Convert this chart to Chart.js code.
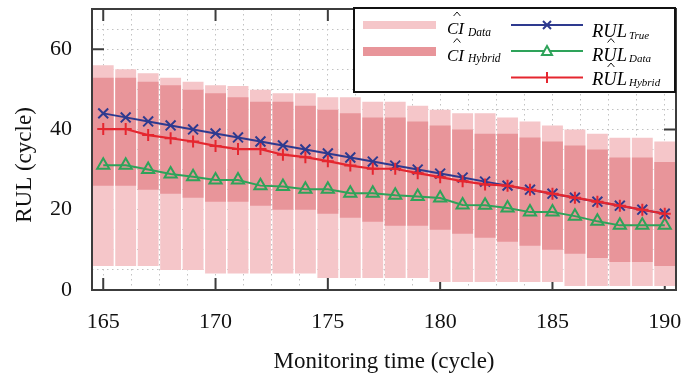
<!DOCTYPE html>
<html>
<head>
<meta charset="utf-8">
<script src="https://cdn.jsdelivr.net/npm/chart.js@4.4.1/dist/chart.umd.min.js"></script>
<style>
  html, body { margin: 0; padding: 0; background: #fff; }
  #wrap { width: 697px; height: 381px; }
</style>
</head>
<body>
<div id="wrap"><canvas id="chart" width="697" height="381"></canvas></div>
<script>
// monitoring time (cycle)
const cycles = [165, 166, 167, 168, 169, 170, 171, 172, 173, 174, 175, 176, 177,
  178, 179, 180, 181, 182, 183, 184, 185, 186, 187, 188, 189, 190]

// confidence interval from data only (light bars)
const ciDataLow = [6.0, 6.0, 6.0, 5.0, 5.0, 4.1, 4.1, 4.1, 4.1, 4.1, 3.0, 3.0, 3.0,
  3.0, 3.0, 2.0, 2.0, 2.0, 2.0, 2.0, 2.0, 1.0, 1.0, 1.0, 1.0, 1.0]
const ciDataHigh = [56.0, 55.0, 54.0, 52.9, 51.9, 51.0, 50.8, 49.9, 49.0, 49.0, 48.0, 48.0, 46.9,
  46.9, 45.9, 44.9, 44.0, 44.0, 43.0, 42.0, 41.0, 40.0, 38.9, 37.9, 37.9, 37.0]

// confidence interval of the hybrid method (dark bars)
const ciHybridLow = [26.0, 26.0, 25.0, 24.0, 23.0, 22.0, 22.0, 21.0, 20.0, 20.0, 19.0, 18.0, 17.0,
  16.0, 16.0, 15.0, 14.0, 13.0, 12.0, 11.0, 10.0, 9.0, 8.0, 7.0, 7.0, 6.0]
const ciHybridHigh = [52.9, 52.9, 51.9, 51.0, 49.9, 49.0, 48.0, 46.9, 46.9, 45.9, 44.9, 44.0, 43.0,
  43.0, 42.0, 41.0, 40.0, 38.9, 38.9, 38.0, 37.0, 36.0, 35.0, 33.0, 33.0, 31.9]

// RUL curves
const rulTrue = [44, 43, 42, 41, 40, 39, 38, 37, 36, 35, 34, 33, 32,
  31, 30, 29, 28, 27, 26, 25, 24, 23, 22, 21, 20, 19]
const rulData = [31.1, 31.1, 30.0, 28.9, 28.2, 27.4, 27.4, 26.0, 25.8, 25.1, 25.1, 24.1, 24.1,
  23.6, 23.3, 22.9, 21.2, 21.1, 20.4, 19.4, 19.4, 18.4, 17.1, 16.1, 16.1, 16.1]
const rulHybrid = [40.1, 40.1, 38.6, 37.8, 37.0, 35.9, 35.1, 35.1, 33.7, 33.1, 32.1, 31.0, 30.2,
  30.2, 29.1, 28.1, 27.1, 26.3, 26.0, 25.0, 24.0, 23.0, 22.0, 21.0, 20.0, 19.0]

const LIGHT = "#f5c6c9"
const DARK = "#e8959a"
const BLUE = "#2e3a8f"
const GREEN = "#2ea35a"
const RED = "#e5262f"
const AXIS = "#3c3c3c"
const SERIF = "'Liberation Serif', 'Times New Roman', serif"

const toBars = (lo, hi) => cycles.map((c, i) => ({ x: c, y: [lo[i], hi[i]] }))
const toLine = vals => cycles.map((c, i) => ({ x: c, y: vals[i] }))

// ticks come out as floats like 164.99999, so round before testing
const isMajor = (v, step) => {
  const r = Math.round(v)
  return Math.abs(r - v) < 1e-6 && r % step === 0
}

// frame with inward ticks, drawn like a "box on" plot
const framePlugin = {
  id: "frame",
  beforeDatasetsDraw(chart) {
    const { ctx, chartArea: a, scales } = chart
    ctx.save()
    ctx.strokeStyle = AXIS
    ctx.lineWidth = 2
    ctx.beginPath()
    scales.x.ticks.forEach(t => {
      if (!isMajor(t.value, 5)) return
      const px = scales.x.getPixelForValue(t.value)
      ctx.moveTo(px, a.bottom); ctx.lineTo(px, a.bottom - 12)
      ctx.moveTo(px, a.top); ctx.lineTo(px, a.top + 12)
    })
    scales.y.ticks.forEach(t => {
      if (!isMajor(t.value, 20)) return
      const py = scales.y.getPixelForValue(t.value)
      ctx.moveTo(a.left, py); ctx.lineTo(a.left + 12, py)
      ctx.moveTo(a.right, py); ctx.lineTo(a.right - 12, py)
    })
    ctx.stroke()
    ctx.restore()
  },
  afterDatasetsDraw(chart) {
    const { ctx, chartArea: a } = chart
    ctx.save()
    ctx.strokeStyle = AXIS
    ctx.lineWidth = 2
    ctx.strokeRect(a.left, a.top, a.right - a.left, a.bottom - a.top)

    // y title sits a bit below the middle of the axis in the original
    ctx.translate(25, 165)
    ctx.rotate(-Math.PI / 2)
    ctx.fillStyle = "#111"
    ctx.font = "23px " + SERIF
    ctx.textAlign = "center"
    ctx.textBaseline = "middle"
    ctx.fillText("RUL (cycle)", 0, 0)
    ctx.restore()
  }
}

function hat(ctx, cx, y) {
  ctx.beginPath()
  ctx.moveTo(cx - 3.4, y + 4)
  ctx.lineTo(cx, y)
  ctx.lineTo(cx + 3.4, y + 4)
  ctx.stroke()
}

// legend box in the top right corner
const legendPlugin = {
  id: "boxLegend",
  afterDraw(chart) {
    const ctx = chart.ctx
    ctx.save()
    ctx.fillStyle = "#fff"
    ctx.fillRect(354, 8, 321, 84)
    ctx.strokeStyle = "#111"
    ctx.lineWidth = 2
    ctx.strokeRect(354, 8, 321, 84)

    // swatches
    ctx.fillStyle = LIGHT
    ctx.fillRect(363, 21, 73, 8)
    ctx.fillStyle = DARK
    ctx.fillRect(363, 47, 73, 9)

    // lines with markers
    ctx.lineWidth = 2
    ctx.strokeStyle = BLUE
    ctx.beginPath(); ctx.moveTo(511, 25); ctx.lineTo(583, 25); ctx.stroke()
    ctx.beginPath()
    ctx.moveTo(543, 21); ctx.lineTo(551, 29)
    ctx.moveTo(551, 21); ctx.lineTo(543, 29)
    ctx.stroke()

    ctx.strokeStyle = GREEN
    ctx.beginPath(); ctx.moveTo(511, 51); ctx.lineTo(583, 51); ctx.stroke()
    ctx.beginPath()
    ctx.moveTo(547, 46); ctx.lineTo(552, 55); ctx.lineTo(542, 55); ctx.closePath()
    ctx.fillStyle = "#fff"
    ctx.fill()
    ctx.stroke()

    ctx.strokeStyle = RED
    ctx.beginPath(); ctx.moveTo(511, 77.5); ctx.lineTo(583, 77.5); ctx.stroke()
    ctx.beginPath()
    ctx.moveTo(547, 72); ctx.lineTo(547, 83)
    ctx.stroke()

    // labels
    ctx.fillStyle = "#000"
    ctx.strokeStyle = "#000"
    ctx.lineWidth = 0.9
    ctx.textBaseline = "alphabetic"
    ctx.textAlign = "left"
    ctx.font = "italic 17px " + SERIF
    ctx.fillText("CI", 447, 34)
    ctx.fillText("CI", 447, 60.5)
    hat(ctx, 457, 12)
    hat(ctx, 457, 38.5)
    ctx.font = "italic 11.5px " + SERIF
    ctx.fillText("Data", 468, 35.5)
    ctx.fillText("Hybrid", 468, 61.5)

    ctx.font = "italic 18.5px " + SERIF
    ctx.fillText("RUL", 592, 37)
    ctx.fillText("RUL", 592, 61)
    ctx.fillText("RUL", 592, 85)
    hat(ctx, 611, 38.5)
    hat(ctx, 611, 63)
    ctx.font = "italic 11px " + SERIF
    ctx.fillText("True", 629, 39)
    ctx.fillText("Data", 629, 62)
    ctx.fillText("Hybrid", 629, 86)
    ctx.restore()
  }
}

const tickFont = { family: SERIF, size: 22 }
const titleFont = { family: SERIF, size: 23 }

new Chart(document.getElementById("chart"), {
  type: "bar",
  data: {
    datasets: [
      {
        type: "bar", label: "CI Data", data: toBars(ciDataLow, ciDataHigh),
        backgroundColor: LIGHT, borderWidth: 0, grouped: false,
        barPercentage: 0.93, categoryPercentage: 1, order: 6
      },
      {
        type: "bar", label: "CI Hybrid", data: toBars(ciHybridLow, ciHybridHigh),
        backgroundColor: DARK, borderWidth: 0, grouped: false,
        barPercentage: 0.93, categoryPercentage: 1, order: 5
      },
      {
        type: "line", label: "RUL True", data: toLine(rulTrue),
        borderColor: BLUE, borderWidth: 2, tension: 0,
        pointStyle: "crossRot", pointRadius: 7, pointBorderWidth: 2,
        pointBorderColor: BLUE, pointBackgroundColor: BLUE, order: 3
      },
      {
        type: "line", label: "RUL Data", data: toLine(rulData),
        borderColor: GREEN, borderWidth: 2, tension: 0,
        pointStyle: "triangle", pointRadius: 7, pointBorderWidth: 2,
        pointBorderColor: GREEN, pointBackgroundColor: "rgba(0,0,0,0)", order: 2
      },
      {
        type: "line", label: "RUL Hybrid", data: toLine(rulHybrid),
        borderColor: RED, borderWidth: 2.2, tension: 0,
        pointStyle: "cross", pointRadius: 6, pointBorderWidth: 2,
        pointBorderColor: RED, pointBackgroundColor: RED, order: 1
      }
    ]
  },
  options: {
    responsive: false,
    animation: false,
    layout: { padding: { top: 8, right: 21, left: 0, bottom: 0 } },
    plugins: {
      legend: { display: false },
      tooltip: { enabled: false }
    },
    scales: {
      x: {
        type: "linear",
        min: 164.5,
        max: 190.5,
        offset: false,
        afterFit: s => {
          s.height = 91
          s.paddingLeft = 0
          s.paddingRight = 0
        },
        grid: { offset: false, color: "#c2c2c2", lineWidth: 1, drawTicks: false },
        border: { display: false, dash: [1.5, 3.5] },
        ticks: {
          stepSize: 1.25, includeBounds: false, autoSkip: false, maxRotation: 0, padding: 19,
          color: "#111", font: tickFont,
          callback: v => (isMajor(v, 5) ? String(Math.round(v)) : "")
        },
        title: {
          display: true, text: "Monitoring time (cycle)", color: "#111",
          font: titleFont, padding: { top: 0, bottom: 5 }
        }
      },
      y: {
        min: 0,
        max: 70,
        afterFit: s => {
          s.width = 92
          s.paddingTop = 0
          s.paddingBottom = 0
        },
        grid: { color: "#c2c2c2", lineWidth: 1, drawTicks: false },
        border: { display: false, dash: [1.5, 3.5] },
        ticks: {
          stepSize: 5, autoSkip: false, padding: 20,
          color: "#111", font: tickFont,
          callback: v => (isMajor(v, 20) ? String(Math.round(v)) : "")
        },
        title: { display: false }
      }
    }
  },
  plugins: [framePlugin, legendPlugin]
})
</script>
</body>
</html>
